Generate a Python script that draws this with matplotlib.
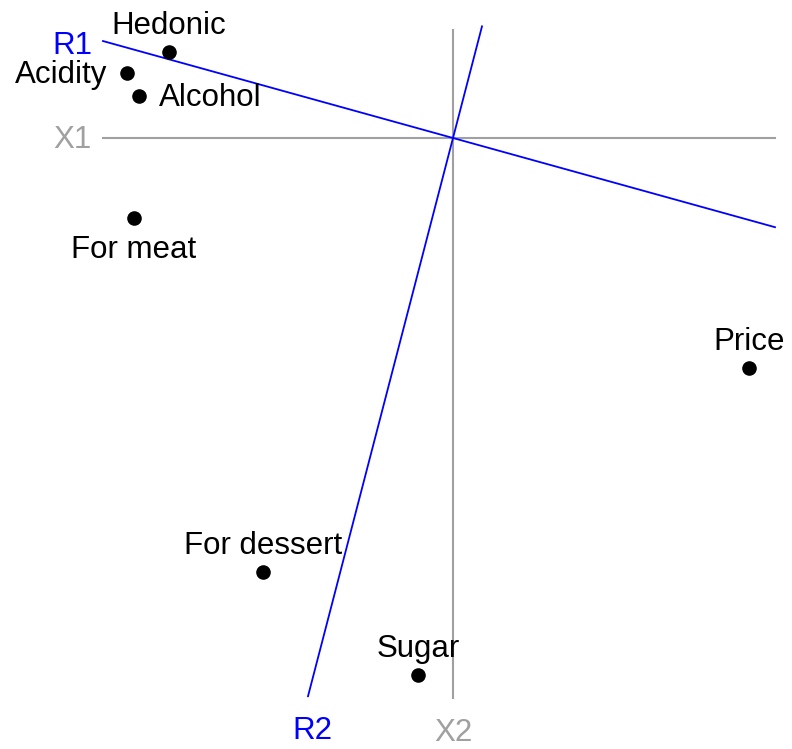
import matplotlib.pyplot as plt

plt.rcParams['font.family'] = ['Liberation Sans', 'DejaVu Sans']

# variable coordinates (first two dimensions)
names = ['Hedonic', 'Acidity', 'Alcohol', 'For meat', 'Price', 'For dessert', 'Sugar']
dim1 = [-2.84, -3.26, -3.14, -3.19, 2.96, -1.90, -0.35]
dim2 = [0.86, 0.65, 0.42, -0.80, -2.30, -4.34, -5.37]
# where the name goes relative to the point
label_side = ['top', 'left', 'right', 'bottom', 'top', 'top', 'top']

# extents of the original axes
x1_range = [-3.50, 3.22]
x2_range = [-5.60, 1.08]

# rotated axes as slopes through the origin
r1_slope = -0.277
r1_range = [-3.50, 3.22]
r2_slope = 3.85
r2_range = [-1.45, 0.29]

fig = plt.figure(figsize=(7.92, 7.49), dpi=100)
ax = fig.add_axes([0, 0, 1, 1])
ax.set_xlim(-4.53, 3.39)
ax.set_ylim(-6.11, 1.38)
ax.axis('off')

fs = 22.5
grey = '#a0a0a0'
ax.plot(x1_range, [0, 0], color=grey, lw=1.5)
ax.plot([0, 0], x2_range, color=grey, lw=1.5)
ax.plot(r1_range, [r1_slope * v for v in r1_range], color='blue', lw=1.3)
ax.plot(r2_range, [r2_slope * v for v in r2_range], color='blue', lw=1.3)

ax.text(x1_range[0] - 0.31, -0.025, 'X1', color=grey, fontsize=fs, ha='center', va='center')
ax.text(0, x2_range[0] - 0.35, 'X2', color=grey, fontsize=fs, ha='center', va='center')
ax.text(r1_range[0] - 0.31, r1_slope * r1_range[0] - 0.045, 'R1', color='blue',
        fontsize=fs, ha='center', va='center')
ax.text(r2_range[0] + 0.04, r2_slope * r2_range[0] - 0.35, 'R2', color='blue',
        fontsize=fs, ha='center', va='center')

ax.scatter(dim1, dim2, s=90, color='black', zorder=3)

offsets = {'top': ((0, 19), 'center'), 'bottom': ((0, -23), 'center'),
           'left': ((-14, -1.5), 'right'), 'right': ((14, -1.5), 'left')}
for name, x, y, side in zip(names, dim1, dim2, label_side):
    off, ha = offsets[side]
    ax.annotate(name, (x, y), xytext=off, textcoords='offset points',
                ha=ha, va='center', fontsize=fs)

fig.savefig('out.png', dpi=100)
